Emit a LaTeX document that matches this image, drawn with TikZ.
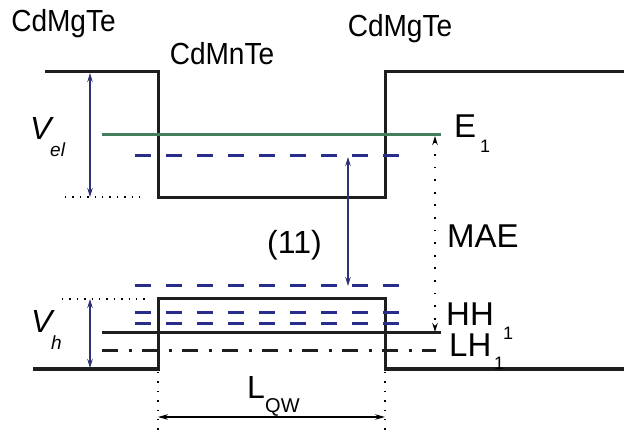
\documentclass[tikz,border=0pt]{standalone}
\usepackage{fontspec}
\setmainfont{Liberation Sans}
\newfontfamily\narrowsans[FakeStretch=0.92]{Liberation Sans}
\usetikzlibrary{arrows.meta}
\definecolor{lvlgreen}{RGB}{70,125,95}
\definecolor{lvlblue}{RGB}{40,45,140}
\definecolor{arrnavy}{RGB}{45,50,115}
\definecolor{bandblack}{RGB}{30,30,30}
\begin{document}
\begin{tikzpicture}[x=1pt,y=-1pt,
  band/.style={line width=3pt, draw=bandblack, line join=miter},
  green level/.style={line width=3pt, draw=lvlgreen},
  blue level/.style={line width=3pt, draw=lvlblue, dash pattern=on 16pt off 15pt},
  dashdot level/.style={line width=3pt, draw=bandblack, dash pattern=on 16pt off 10.5pt on 3pt off 10.5pt},
  fine dots/.style={line width=1.4pt, draw=black, dash pattern=on 1.4pt off 6pt},
  navy arrow/.style={line width=1.1pt, draw=arrnavy, {Stealth[length=9pt,width=5.5pt]}-{Stealth[length=9pt,width=5.5pt]}},
  mae arrow/.style={line width=1.6pt, draw=black, dash pattern=on 1.8pt off 10.8pt, {Stealth[length=9pt,width=5.5pt]}-{Stealth[length=9pt,width=5.5pt]}},
  lqw arrow/.style={line width=1.2pt, draw=black, {Stealth[length=10pt,width=5.5pt]}-{Stealth[length=10pt,width=5.5pt]}},
  lbl/.style={inner sep=0pt, anchor=base west},
  big/.style={font=\narrowsans\fontsize{30.5}{32}\selectfont},
  bigger/.style={font=\fontsize{33}{35}\selectfont},
  sub/.style={font=\fontsize{18}{20}\selectfont},
]
\useasboundingbox (0,0) rectangle (624,438);

% conduction band
\coordinate (ctl) at (45,72);
\coordinate (cw1) at (158,72);
\coordinate (cw2) at (158,198);
\coordinate (cw3) at (385,198);
\coordinate (cw4) at (385,72);
\coordinate (ctr) at (624,72);
\draw[band] (ctl) -- (cw1) -- (cw2) -- (cw3) -- (cw4) -- (ctr);

% valence band
\coordinate (vbl) at (33,369);
\coordinate (vw1) at (158,369);
\coordinate (vw2) at (158,299);
\coordinate (vw3) at (385,299);
\coordinate (vw4) at (385,369);
\coordinate (vbr) at (624,369);
\draw[band] (vbl) -- (vw1) -- (vw2) -- (vw3) -- (vw4) -- (vbr);

% levels
\coordinate (e1a) at (102,135); \coordinate (e1b) at (441,135);
\draw[green level] (e1a) -- (e1b);
\coordinate (d1a) at (135,156); \coordinate (d1b) at (401,156);
\coordinate (d2a) at (135,286); \coordinate (d2b) at (401,286);
\coordinate (d3a) at (135,313); \coordinate (d3b) at (401,313);
\coordinate (d4a) at (135,324); \coordinate (d4b) at (401,324);
\draw[blue level] (d1a) -- (d1b);
\draw[blue level] (d2a) -- (d2b);
\draw[blue level] (d3a) -- (d3b);
\draw[blue level] (d4a) -- (d4b);
\coordinate (hha) at (102,333); \coordinate (hhb) at (441,333);
\draw[band] (hha) -- (hhb);
\coordinate (lha) at (102,351); \coordinate (lhb) at (436,351);
\draw[dashdot level] (lha) -- (lhb);

% dotted guide lines
\coordinate (g1a) at (65,197); \coordinate (g1b) at (146,197);
\draw[fine dots] (g1a) -- (g1b);
\coordinate (g2a) at (62,299); \coordinate (g2b) at (150,299);
\draw[fine dots] (g2a) -- (g2b);
\coordinate (g3a) at (158,372); \coordinate (g3b) at (158,438);
\draw[fine dots, dash pattern=on 1.4pt off 8pt] (g3a) -- (g3b);
\coordinate (g4a) at (385,372); \coordinate (g4b) at (385,438);
\draw[fine dots, dash pattern=on 1.4pt off 8pt] (g4a) -- (g4b);

% arrows
\coordinate (vela) at (90,73); \coordinate (velb) at (90,197);
\draw[navy arrow] (vela) -- (velb);
\coordinate (vha) at (90,299); \coordinate (vhb) at (90,368);
\draw[navy arrow] (vha) -- (vhb);
\coordinate (t11a) at (348,157); \coordinate (t11b) at (348,286);
\draw[navy arrow] (t11a) -- (t11b);
\coordinate (maea) at (435,136); \coordinate (maeb) at (435,332);
\draw[mae arrow] (maea) -- (maeb);
\coordinate (lqwa) at (158,417); \coordinate (lqwb) at (385,417);
\draw[lqw arrow] (lqwa) -- (lqwb);

% labels
\node[inner sep=0pt, anchor=base, big] (mat1) at (63.5,32) {CdMgTe};
\node[inner sep=0pt, anchor=base, big] (mat2) at (222,65) {CdMnTe};
\node[inner sep=0pt, anchor=base, big] (mat3) at (400,37) {CdMgTe};

\node[lbl, font=\fontsize{32}{34}\selectfont\itshape] (velV) at (30,140) {V};
\node[lbl, font=\fontsize{19}{21}\selectfont\itshape] (velS) at (50,157) {el};
\node[lbl, font=\fontsize{32}{34}\selectfont\itshape] (vhV) at (31,333) {V};
\node[lbl, font=\fontsize{19}{21}\selectfont\itshape] (vhS) at (51,349) {h};

\node[lbl, bigger] (eE) at (454,138) {E};
\node[lbl, sub] (eS) at (480,153) {1};
\node[lbl, bigger] (mae) at (447,248) {MAE};
\node[lbl, bigger] (hh) at (446,326) {HH};
\node[lbl, sub] (hhS) at (503,340) {1};
\node[lbl, bigger] (lh) at (449,356) {LH};
\node[lbl, sub] (lhS) at (494,370) {1};
\node[lbl, font=\fontsize{32}{34}\selectfont] (t11) at (267,254) {(11)};
\node[lbl, font=\fontsize{32}{34}\selectfont] (lL) at (247,398) {L};
\node[lbl, font=\fontsize{20}{22}\selectfont] (lS) at (265,412) {QW};
\end{tikzpicture}
\end{document}
